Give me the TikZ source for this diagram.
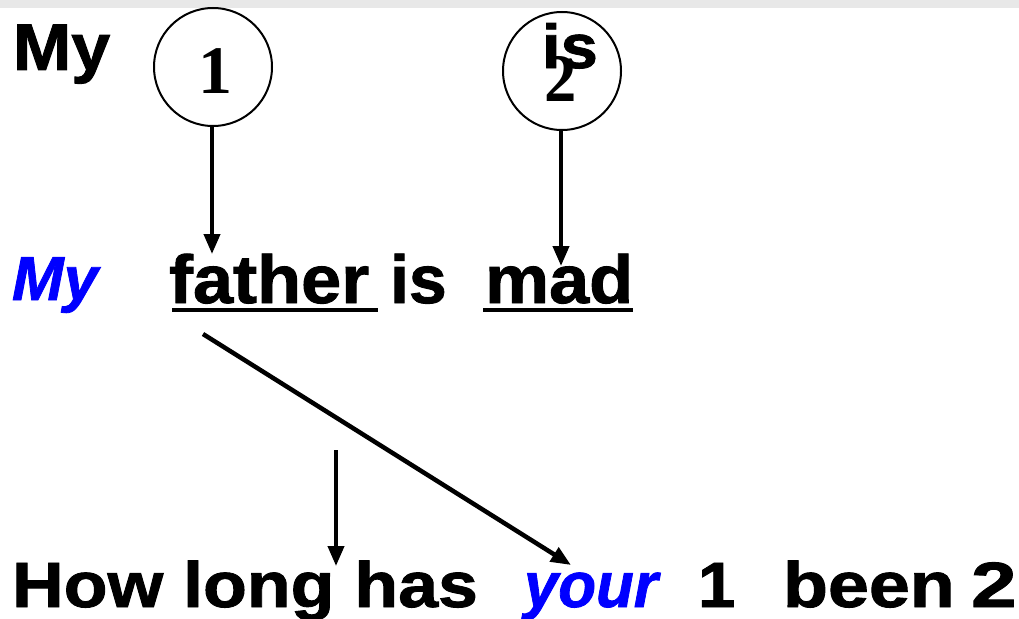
\documentclass[tikz,border=0pt]{standalone}
\usepackage{fontspec}
\setmainfont{Liberation Sans}
\newfontfamily\heavy{Liberation Sans}[FakeBold=1.3]
\newfontfamily\serifdigits{Liberation Serif}
\usetikzlibrary{arrows.meta}
\definecolor{wordblue}{RGB}{0,0,255}
\definecolor{bandgray}{RGB}{232,232,232}
% word set at a given size and horizontal stretch
\newcommand{\wordtext}[3]{\scalebox{#1}[1]{\fontsize{#2}{#2}\selectfont #3}}
\begin{document}
\begin{tikzpicture}[x=1pt,y=-1pt,
  word/.style={inner sep=0pt,outer sep=0pt,anchor=base west,font=\heavy\bfseries},
  blueword/.style={word,text=wordblue,font=\heavy\bfseries\itshape},
  digit/.style={inner sep=0pt,anchor=base,font=\serifdigits\bfseries},
  slot/.style={circle,draw,line width=2pt,minimum size=118pt,inner sep=0pt},
  ptr/.style={line width=4pt,-{Triangle[length=20pt,width=16pt]}},
  ulinestyle/.style={line width=4.5pt}]
\useasboundingbox (0,0) rectangle (1019,618);
\fill[bandgray] (0,0) rectangle (1019,8);

% top row: template with two slots
\node[word] (tmy) at (13,70) {\wordtext{1.06}{66}{My}};
\node[slot] (c1) at (213,67) {};
\node[digit] (n1) at (215,93) {\wordtext{1.0}{68}{1}};
\node[slot] (c2) at (562,71) {};
\node[digit] (n2) at (561,101) {\wordtext{0.95}{68}{2}};
\node[word] (tis) at (542,68) {\wordtext{1.08}{62}{is}};

% middle row: filled sentence
\node[blueword] (mmy) at (12,300) {\wordtext{1}{62}{My}};
\node[word] (father) at (169,303) {\wordtext{1.06}{68}{father}};
\node[word] (mis) at (390,303) {\wordtext{1}{68}{is}};
\node[word] (mad) at (485,303) {\wordtext{1.06}{68}{mad}};
\draw[ulinestyle] (172,310) -- (378,310);
\draw[ulinestyle] (483,310) -- (633,310);

% bottom row: question
\node[word] (how) at (12,607) {\wordtext{1.12}{64}{How long has}};
\node[blueword] (your) at (524,607) {\wordtext{0.965}{64}{your}};
\node[word] (b1) at (698,607) {\wordtext{1.05}{64}{1}};
\node[word] (been) at (783,607) {\wordtext{1.15}{64}{been}};
\node[word] (b2) at (971,607) {\wordtext{1.28}{64}{2}};

% pointers
\coordinate (t1) at (212,254);
\coordinate (t2) at (561,266);
\coordinate (dstart) at (203,334);
\coordinate (dend) at (571,565);
\coordinate (vstart) at (336,450);
\coordinate (vend) at (336,566);
\draw[ptr] (c1.south -| t1) -- (t1);
\draw[ptr] (c2.south -| t2) -- (t2);
\draw[ptr,line width=4.5pt] (dstart) -- (dend);
\draw[ptr] (vstart) -- (vend);
\end{tikzpicture}
\end{document}
